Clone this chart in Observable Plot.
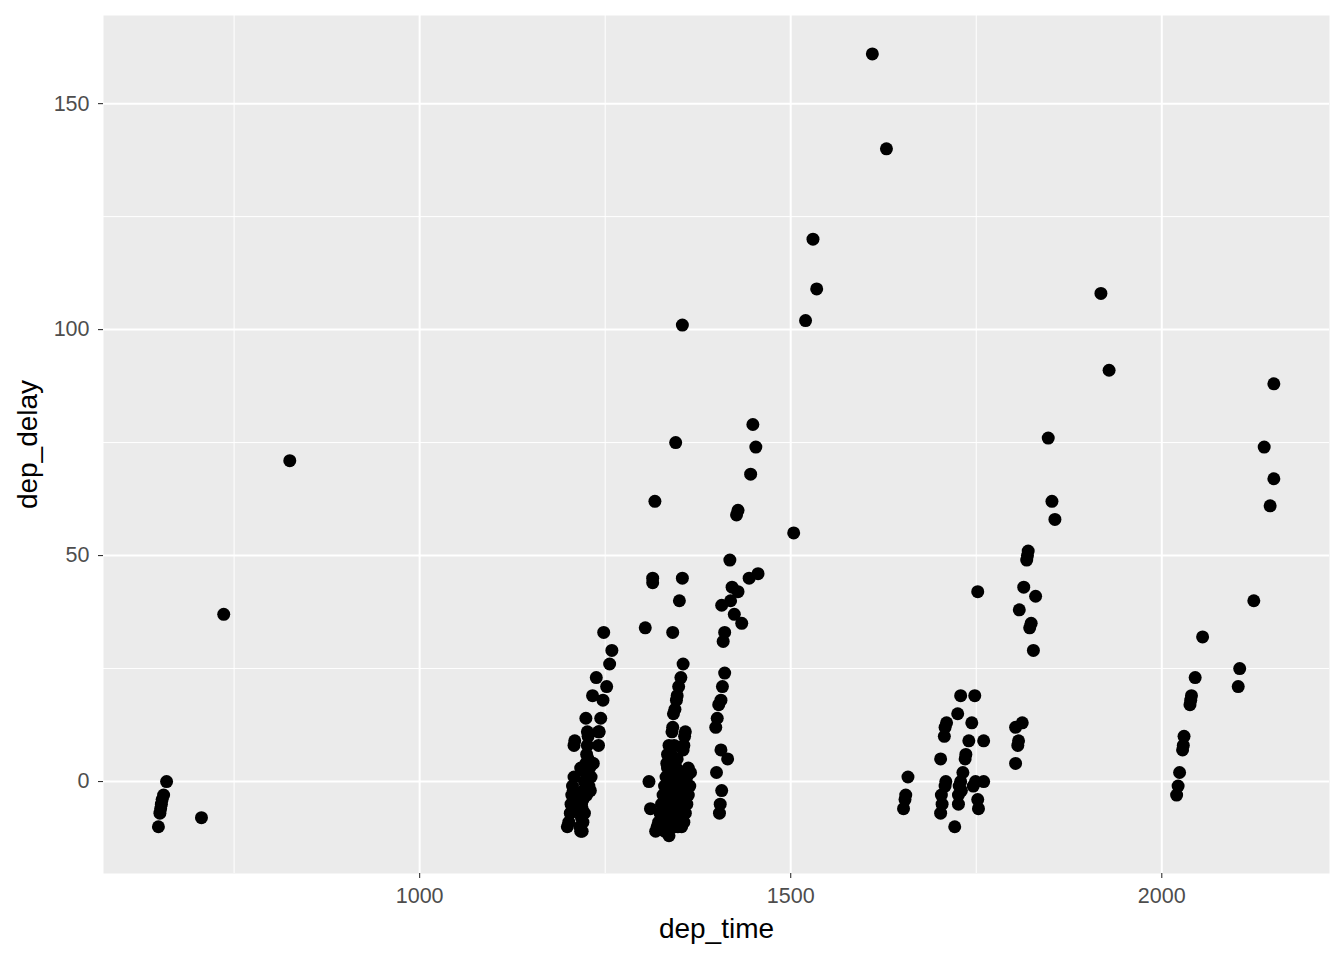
<!DOCTYPE html>
<html>
<head>
<meta charset="utf-8">
<script src="https://cdn.jsdelivr.net/npm/d3@7"></script>
<script src="https://cdn.jsdelivr.net/npm/@observablehq/plot@0.6"></script>
<style>
  html, body { margin: 0; padding: 0; background: #ffffff; }
  #chart svg { display: block; }
</style>
</head>
<body>
<div id="chart"></div>
<script>
const depTime = [
  648,650,651,652,653,655,659,706,736,825,
  1199,1201,1203,1204,1205,1206,1208,1209,1208,1207,1216,1217,1219,1218,1219,1220,1221,1222,1223,1217,
  1224,1225,1226,1227,1226,1224,1220,1218,1222,1225,1228,1230,1231,1233,1234,1229,1241,1241,1242,1244,
  1233,1238,1247,1252,1256,1259,1248,1227,1213,1212,
  1304,1309,1311,1314,1314,1317,1345,1354,1350,1341,1354,1355,1352,1349,1347,1346,1344,1342,1341,1340,
  1358,1357,1356,1355,1336,1334,1333,1336,1318,1320,1322,1324,1326,1328,1330,1332,1334,1336,1325,1328,
  1330,1332,1334,1336,1338,1340,1330,1333,1336,1338,1340,1342,1344,1346,1338,1341,1343,1345,1347,1349,
  1351,1344,1346,1348,1350,1352,1354,1356,1348,1351,1353,1355,1357,1359,1360,1362,1353,1356,1358,1360,
  1362,1364,1365,1339,1343,1347,
  1404,1405,1407,1400,1415,1406,1399,1401,1403,1406,1408,1411,1409,1411,1434,1424,1407,1419,1421,1429,
  1444,1456,1418,1427,1429,1446,1453,1449,
  1504,1520,1530,1535,1610,1629,
  1652,1654,1655,1658,1702,1704,1703,1708,1709,1702,1707,1708,1710,1725,1729,1748,1744,1740,1760,1736,
  1735,1732,1729,1727,1726,1726,1721,1749,1760,1746,1752,1753,1752,1730,
  1803,1806,1807,1803,1812,1808,1814,1818,1819,1820,1822,1824,1827,1830,1847,1852,1856,
  1918,1929,
  2020,2022,2024,2028,2029,2030,2038,2039,2040,2045,2055,2103,2105,2124,2138,2146,2151,2151
];
const depDelay = [
  -10,-7,-6,-5,-4,-3,0,-8,37,71,
  -10,-9,-7,-5,-3,-1,1,9,8,-2,-10,-11,-11,-8,-6,-4,-2,0,2,3,
  4,6,8,10,11,14,-9,-5,-7,-3,-1,-2,1,4,4,3,8,11,11,14,
  19,23,18,21,26,29,33,5,-6,-3,
  34,0,-6,44,45,62,75,45,40,33,101,26,23,21,19,18,16,15,12,11,
  11,10,8,7,8,6,4,-12,-11,-10,-9,-7,-5,-3,-1,1,3,5,-10,-8,
  -6,-4,-2,0,2,4,-11,-9,-7,-5,-3,-1,1,3,-10,-8,-6,-4,-2,0,
  2,-10,-8,-6,-4,-2,0,2,-10,-9,-7,-5,-3,-1,1,3,-10,-9,-7,-5,
  -3,-1,2,6,8,5,
  -7,-5,-2,2,5,7,12,14,17,18,21,24,31,33,35,37,39,40,43,42,
  45,46,49,59,60,68,74,79,
  55,102,120,109,161,140,
  -6,-4,-3,1,-7,-5,-3,-1,0,5,10,12,13,15,19,19,13,9,9,6,
  5,2,0,-1,-3,-5,-10,0,0,-1,-4,-6,42,-2,
  4,8,9,12,13,38,43,49,50,51,34,35,29,41,76,62,58,
  108,91,
  -3,-1,2,7,8,10,17,18,19,23,32,21,25,40,74,61,67,88
];
const xMajor = [1000, 1500, 2000];
const xMinor = [750, 1250, 1750];
const yMajor = [0, 50, 100, 150];
const yMinor = [25, 75, 125];

const data = depTime.map((t, i) => ({dep_time: t, dep_delay: depDelay[i]}));

const font = "'Liberation Sans', Arial, Helvetica, sans-serif";

const chart = Plot.plot({
  width: 1344,
  height: 960,
  marginLeft: 103,
  marginRight: 15,
  marginTop: 15,
  marginBottom: 87,
  style: {fontFamily: font, background: "#ffffff"},
  x: {domain: [574, 2226], label: null},
  y: {domain: [-20.35, 169.5], label: null},
  marks: [
    Plot.frame({fill: "#EBEBEB", stroke: null}),
    Plot.gridX(xMinor, {stroke: "#ffffff", strokeOpacity: 1, strokeWidth: 1}),
    Plot.gridY(yMinor, {stroke: "#ffffff", strokeOpacity: 1, strokeWidth: 1}),
    Plot.gridX(xMajor, {stroke: "#ffffff", strokeOpacity: 1, strokeWidth: 2}),
    Plot.gridY(yMajor, {stroke: "#ffffff", strokeOpacity: 1, strokeWidth: 2}),
    Plot.axisX(xMajor, {tickSize: 5, tickPadding: 9, stroke: "#333333", strokeWidth: 1.1, fill: "#4D4D4D", fontSize: 21.5, label: null, tickFormat: d => String(d)}),
    Plot.axisY(yMajor, {tickSize: 5, tickPadding: 9, stroke: "#333333", strokeWidth: 1.1, fill: "#4D4D4D", fontSize: 21.5, label: null, tickFormat: d => String(d)}),
    Plot.dot(data, {x: "dep_time", y: "dep_delay", r: 6.5, fill: "#000000", stroke: null}),
    Plot.text(["dep_time"], {frameAnchor: "bottom", dy: 64, fontSize: 28, fill: "#000000", text: d => d}),
    Plot.text(["dep_delay"], {frameAnchor: "left", dx: -75, rotate: -90, textAnchor: "middle", fontSize: 28, fill: "#000000", text: d => d})
  ]
});
document.getElementById("chart").appendChild(chart);
</script>
</body>
</html>
